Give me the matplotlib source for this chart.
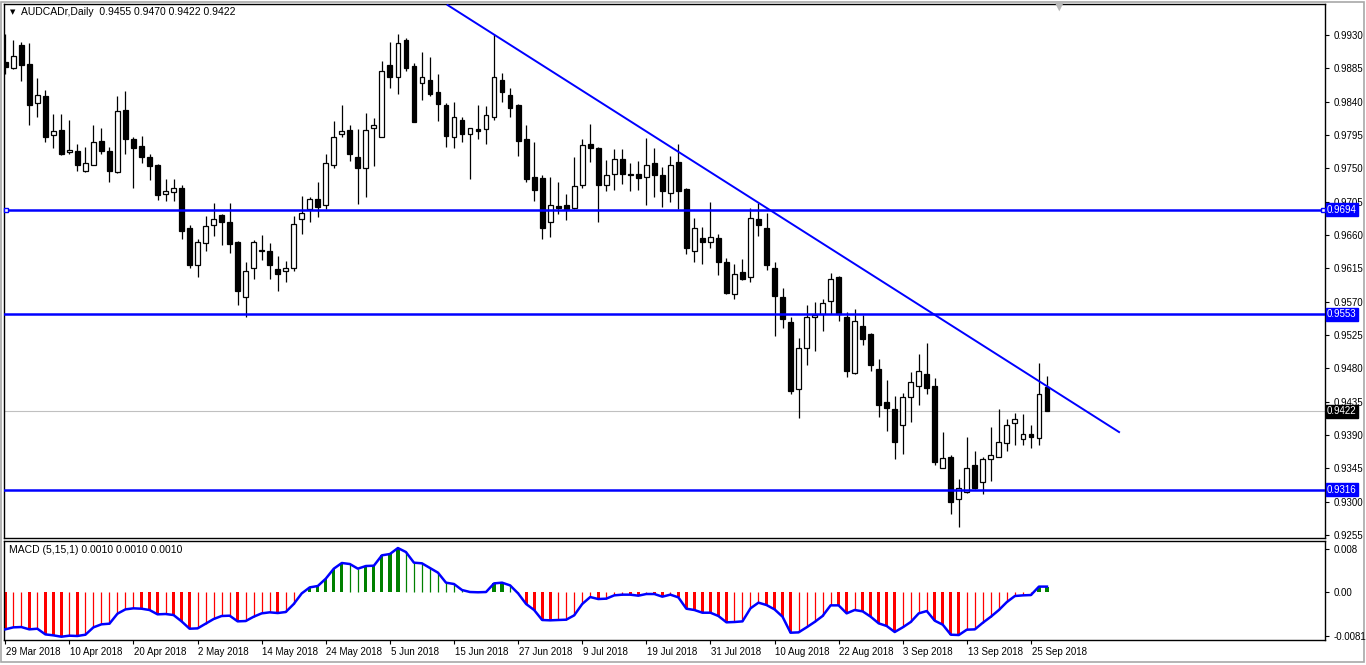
import numpy as np
import matplotlib
matplotlib.use("Agg")
import matplotlib.pyplot as plt
import matplotlib.transforms as mtrans
from matplotlib.patches import Rectangle

plt.rcParams['font.family'] = ['Liberation Sans', 'DejaVu Sans']

# ---- data (AUDCADr daily) ----
opens = [0.9894, 0.9885, 0.9917, 0.9891, 0.9838, 0.9848, 0.9795, 0.9802, 0.9772, 0.9774,
         0.9746, 0.9755, 0.9787, 0.9774, 0.9745, 0.9829, 0.9790, 0.9780, 0.9765, 0.9755,
         0.9715, 0.9718, 0.9724, 0.9670, 0.9619, 0.9649, 0.9673, 0.9687, 0.9678, 0.9651,
         0.9577, 0.9615, 0.9640, 0.9639, 0.9614, 0.9611, 0.9616, 0.9681, 0.9695, 0.9708,
         0.9700, 0.9754, 0.9797, 0.9802, 0.9765, 0.9750, 0.9804, 0.9793, 0.9890, 0.9874,
         0.9923, 0.9888, 0.9865, 0.9869, 0.9853, 0.9836, 0.9792, 0.9815, 0.9797, 0.9803,
         0.9803, 0.9819, 0.9869, 0.9849, 0.9835, 0.9789, 0.9738, 0.9737, 0.9677, 0.9699,
         0.9700, 0.9697, 0.9727, 0.9783, 0.9778, 0.9727, 0.9742, 0.9762, 0.9742, 0.9742,
         0.9739, 0.9757, 0.9741, 0.9717, 0.9758, 0.9722, 0.9638, 0.9656, 0.9650, 0.9656,
         0.9624, 0.9581, 0.9610, 0.9604, 0.9681, 0.9669, 0.9615, 0.9577, 0.9542, 0.9452,
         0.9508, 0.9549, 0.9554, 0.9571, 0.9603, 0.9549, 0.9474, 0.9537, 0.9527, 0.9479,
         0.9434, 0.9425, 0.9404, 0.9442, 0.9456, 0.9473, 0.9456, 0.9346, 0.9360, 0.9303,
         0.9313, 0.9350, 0.9326, 0.9357, 0.9361, 0.9379, 0.9406, 0.9384, 0.9392, 0.9386,
         0.9455]
highs = [0.9931, 0.9923, 0.9920, 0.9919, 0.9872, 0.9856, 0.9823, 0.9824, 0.9815, 0.9783,
         0.9779, 0.9809, 0.9804, 0.9779, 0.9848, 0.9854, 0.9792, 0.9794, 0.9769, 0.9756,
         0.9736, 0.9736, 0.9728, 0.9674, 0.9655, 0.9686, 0.9703, 0.9689, 0.9703, 0.9652,
         0.9624, 0.9653, 0.9660, 0.9649, 0.9632, 0.9625, 0.9686, 0.9713, 0.9711, 0.9732,
         0.9769, 0.9814, 0.9836, 0.9809, 0.9803, 0.9825, 0.9818, 0.9895, 0.9921, 0.9931,
         0.9926, 0.9892, 0.9907, 0.9900, 0.9877, 0.9838, 0.9840, 0.9819, 0.9805, 0.9836,
         0.9834, 0.9931, 0.9879, 0.9859, 0.9837, 0.9809, 0.9786, 0.9741, 0.9738, 0.9732,
         0.9715, 0.9765, 0.9790, 0.9810, 0.9779, 0.9761, 0.9776, 0.9776, 0.9757, 0.9760,
         0.9791, 0.9777, 0.9752, 0.9767, 0.9783, 0.9724, 0.9683, 0.9671, 0.9705, 0.9661,
         0.9629, 0.9621, 0.9628, 0.9697, 0.9703, 0.9690, 0.9624, 0.9588, 0.9549, 0.9521,
         0.9566, 0.9570, 0.9574, 0.9609, 0.9605, 0.9556, 0.9560, 0.9552, 0.9528, 0.9493,
         0.9464, 0.9443, 0.9447, 0.9475, 0.9499, 0.9514, 0.9467, 0.9394, 0.9363, 0.9331,
         0.9387, 0.9369, 0.9360, 0.9401, 0.9425, 0.9412, 0.9420, 0.9418, 0.9404, 0.9487,
         0.9470]
lows = [0.9878, 0.9884, 0.9868, 0.9808, 0.9820, 0.9785, 0.9778, 0.9768, 0.9769, 0.9746,
        0.9745, 0.9754, 0.9769, 0.9732, 0.9744, 0.9769, 0.9723, 0.9757, 0.9734, 0.9707,
        0.9706, 0.9706, 0.9655, 0.9616, 0.9603, 0.9638, 0.9659, 0.9646, 0.9636, 0.9565,
        0.9550, 0.9600, 0.9626, 0.9600, 0.9584, 0.9596, 0.9611, 0.9661, 0.9677, 0.9684,
        0.9695, 0.9750, 0.9793, 0.9760, 0.9702, 0.9711, 0.9753, 0.9792, 0.9859, 0.9850,
        0.9881, 0.9812, 0.9842, 0.9848, 0.9814, 0.9779, 0.9777, 0.9785, 0.9735, 0.9790,
        0.9783, 0.9815, 0.9839, 0.9819, 0.9767, 0.9731, 0.9706, 0.9654, 0.9657, 0.9689,
        0.9680, 0.9695, 0.9723, 0.9758, 0.9677, 0.9720, 0.9721, 0.9729, 0.9720, 0.9721,
        0.9700, 0.9712, 0.9698, 0.9704, 0.9695, 0.9635, 0.9623, 0.9621, 0.9643, 0.9606,
        0.9581, 0.9574, 0.9599, 0.9596, 0.9659, 0.9613, 0.9524, 0.9534, 0.9446, 0.9413,
        0.9485, 0.9504, 0.9531, 0.9554, 0.9544, 0.9469, 0.9473, 0.9511, 0.9477, 0.9415,
        0.9396, 0.9358, 0.9365, 0.9407, 0.9430, 0.9446, 0.9349, 0.9346, 0.9284, 0.9266,
        0.9312, 0.9317, 0.9311, 0.9328, 0.9360, 0.9368, 0.9377, 0.9377, 0.9373, 0.9377,
        0.9422]
closes = [0.9887, 0.9902, 0.9889, 0.9836, 0.9849, 0.9793, 0.9800, 0.9770, 0.9775, 0.9754,
          0.9757, 0.9785, 0.9773, 0.9746, 0.9828, 0.9789, 0.9778, 0.9766, 0.9753, 0.9714,
          0.9719, 0.9724, 0.9665, 0.9620, 0.9651, 0.9672, 0.9681, 0.9677, 0.9648, 0.9585,
          0.9612, 0.9651, 0.9638, 0.9619, 0.9608, 0.9616, 0.9675, 0.9690, 0.9708, 0.9698,
          0.9757, 0.9792, 0.9800, 0.9769, 0.9750, 0.9802, 0.9808, 0.9882, 0.9873, 0.9919,
          0.9885, 0.9813, 0.9873, 0.9851, 0.9837, 0.9794, 0.9819, 0.9796, 0.9804, 0.9800,
          0.9822, 0.9873, 0.9853, 0.9831, 0.9787, 0.9735, 0.9721, 0.9670, 0.9700, 0.9697,
          0.9695, 0.9726, 0.9781, 0.9777, 0.9727, 0.9741, 0.9762, 0.9743, 0.9741, 0.9737,
          0.9755, 0.9741, 0.9719, 0.9754, 0.9720, 0.9642, 0.9669, 0.9650, 0.9658, 0.9623,
          0.9582, 0.9608, 0.9601, 0.9683, 0.9673, 0.9619, 0.9578, 0.9547, 0.9450, 0.9507,
          0.9550, 0.9552, 0.9568, 0.9600, 0.9554, 0.9477, 0.9544, 0.9520, 0.9484, 0.9431,
          0.9426, 0.9380, 0.9442, 0.9461, 0.9476, 0.9454, 0.9353, 0.9359, 0.9300, 0.9319,
          0.9346, 0.9318, 0.9357, 0.9363, 0.9380, 0.9404, 0.9411, 0.9391, 0.9387, 0.9445,
          0.9422]

# MACD (5,15,1) main values
macd = [-0.00691, -0.00654, -0.00648, -0.00691, -0.00679, -0.00784, -0.00802, -0.00827, -0.00808, -0.00814,
        -0.00790, -0.00654, -0.00598, -0.00586, -0.00401, -0.00321, -0.00302, -0.00309, -0.00333, -0.00413,
        -0.00407, -0.00426, -0.00543, -0.00679, -0.00673, -0.00586, -0.00500, -0.00444, -0.00438, -0.00543,
        -0.00537, -0.00457, -0.00395, -0.00376, -0.00389, -0.00370, -0.00222, -0.00025, 0.00086, 0.00111,
        0.00247, 0.00432, 0.00537, 0.00518, 0.00432, 0.00481, 0.00487, 0.00679, 0.00703, 0.00814,
        0.00740, 0.00543, 0.00531, 0.00444, 0.00358, 0.00173, 0.00148, 0.00037, 0.00000, -0.00005,
        0.00000, 0.00160, 0.00173, 0.00123, -0.00025, -0.00222, -0.00333, -0.00518, -0.00524, -0.00518,
        -0.00512, -0.00432, -0.00222, -0.00093, -0.00130, -0.00123, -0.00062, -0.00049, -0.00049, -0.00068,
        -0.00037, -0.00037, -0.00086, -0.00049, -0.00099, -0.00309, -0.00333, -0.00383, -0.00383, -0.00444,
        -0.00561, -0.00555, -0.00543, -0.00302, -0.00197, -0.00241, -0.00321, -0.00457, -0.00753, -0.00747,
        -0.00654, -0.00555, -0.00444, -0.00247, -0.00247, -0.00395, -0.00333, -0.00358, -0.00457, -0.00580,
        -0.00629, -0.00740, -0.00654, -0.00555, -0.00395, -0.00352, -0.00531, -0.00605, -0.00790, -0.00796,
        -0.00697, -0.00691, -0.00568, -0.00457, -0.00333, -0.00185, -0.00074, -0.00062, -0.00056, 0.00100,
        0.00100]

date_labels = ["29 Mar 2018", "10 Apr 2018", "20 Apr 2018", "2 May 2018", "14 May 2018",
               "24 May 2018", "5 Jun 2018", "15 Jun 2018", "27 Jun 2018", "9 Jul 2018",
               "19 Jul 2018", "31 Jul 2018", "10 Aug 2018", "22 Aug 2018", "3 Sep 2018",
               "13 Sep 2018", "25 Sep 2018"]
price_ticks = [0.9930, 0.9885, 0.9840, 0.9795, 0.9750, 0.9705, 0.9660, 0.9615,
               0.9570, 0.9525, 0.9480, 0.9435, 0.9390, 0.9345, 0.9300, 0.9255]
levels = [0.9694, 0.9553, 0.9316]
last_price = 0.9422
trend_x = [55.2, 139.0]
trend_y = [0.99705, 0.93940]

n = len(closes)
x = np.arange(n)
o = np.array(opens); c = np.array(closes); h = np.array(highs); l = np.array(lows)

W, H = 1366, 665
fig = plt.figure(figsize=(W / 100, H / 100), dpi=100)
fig.patch.set_facecolor('white')

def rect(x0, y0, x1, y1):
    return [x0 / W, 1 - y1 / H, (x1 - x0) / W, (y1 - y0) / H]

# window frame (grey)
frame = Rectangle((1 / W, 1 - 662 / H), 1363 / W, 660 / H, transform=fig.transFigure,
                  fill=False, ec='#a8a8a8', lw=1.2, zorder=0)
fig.add_artist(frame)

ax = fig.add_axes(rect(4, 4, 1325, 538))
ax2 = fig.add_axes(rect(4, 541, 1325, 640))

xlim = (-0.16, 164.7)

# ---- candles ----
ax.vlines(x, l, h, color='black', lw=0.9, zorder=2)
bull = c >= o
body_lo = np.minimum(o, c)
body_h = np.maximum(np.abs(c - o), 0.00003)
ax.bar(x[bull], body_h[bull], bottom=body_lo[bull], width=0.6,
       facecolor='white', edgecolor='black', lw=0.9, zorder=3)
ax.bar(x[~bull], body_h[~bull], bottom=body_lo[~bull], width=0.6,
       facecolor='black', edgecolor='black', lw=0.9, zorder=3)

# ---- lines ----
ax.axhline(last_price, color='#c0c0c0', lw=0.8, zorder=1)
for lv in levels:
    ax.axhline(lv, color='#0000ff', lw=1.8, zorder=4)
ax.plot([xlim[0] + 0.2, xlim[1] - 0.2], [levels[0], levels[0]], ls='none', marker='s',
        ms=3.5, mfc='white', mec='#0000ff', mew=1.0, zorder=5, clip_on=False)
ax.plot(trend_x, trend_y, color='#0000ff', lw=1.4, zorder=4)

ax.set_xlim(*xlim)
ax.set_ylim(0.92510, 0.99719)

# right price axis
ax.yaxis.tick_right()
ax.set_yticks(price_ticks)
ax.set_yticklabels(["%.4f" % t for t in price_ticks])
ax.tick_params(axis='y', direction='out', length=3, width=0.8, labelsize=7, pad=3)
ax.set_xticks([])
for sp in ['top', 'bottom', 'left', 'right']:
    ax.spines[sp].set_linewidth(1.0)

blend = mtrans.blended_transform_factory(ax.transAxes, ax.transData)
for lv in levels:
    ax.text(1.0015, lv, "%.4f" % lv, transform=blend, fontsize=7, color='white',
            va='center', ha='left', zorder=10,
            bbox=dict(boxstyle='square,pad=0.15', fc='#0000ff', ec='#0000ff'))
ax.text(1.0015, last_price, "%.4f" % last_price, transform=blend, fontsize=7, color='white',
        va='center', ha='left', zorder=10,
        bbox=dict(boxstyle='square,pad=0.15', fc='black', ec='black'))

# ---- MACD pane ----
m = np.array(macd)
absm = np.abs(m)
grow = np.concatenate([[True], absm[1:] >= absm[:-1]])
cols = np.where(m >= 0, '#008000', '#ff0000')
thick = grow
ax2.bar(x[thick], m[thick], width=0.4, color=cols[thick], lw=0, zorder=2)
ax2.vlines(x[~thick], 0, m[~thick], colors=cols[~thick], lw=0.9, zorder=2)
ax2.plot(x, m, color='#0000ff', lw=1.8, zorder=3)
ax2.set_xlim(*xlim)
ax2.set_ylim(-0.00888, 0.00944)
ax2.yaxis.tick_right()
ax2.set_yticks([0.008, 0.0, -0.0081])
ax2.set_yticklabels(["0.008", "0.00", "-0.0081"])
ax2.tick_params(axis='y', direction='out', length=3, width=0.8, labelsize=7, pad=3)
ax2.set_xticks(np.arange(len(date_labels)) * 8)
ax2.set_xticklabels([])
ax2.tick_params(axis='x', direction='out', length=3, width=0.8)
for i, lab in enumerate(date_labels):
    ax2.annotate(lab, xy=(i * 8, 0), xycoords=('data', 'axes fraction'),
                 xytext=(0.5, -5), textcoords='offset points', ha='left', va='top',
                 fontsize=7)
for sp in ['top', 'bottom', 'left', 'right']:
    ax2.spines[sp].set_linewidth(1.0)

# ---- header texts ----
fig.text(10 / W, 1 - 12 / H, u"\u25BC", fontsize=5, va='center', ha='left',
         family='DejaVu Sans')
fig.text(21 / W, 1 - 12 / H, "AUDCADr,Daily  0.9455 0.9470 0.9422 0.9422",
         fontsize=7.5, va='center', ha='left')
fig.text(9 / W, 1 - 550 / H, "MACD (5,15,1) 0.0010 0.0010 0.0010",
         fontsize=7.5, va='center', ha='left')

# MT4 chart-shift marker
fig.text(1059 / W, 1 - 7 / H, u"\u25BC", fontsize=8, color='#b8b8b8', va='center',
         ha='center', family='DejaVu Sans')

fig.savefig("out.png", dpi=100, facecolor='white')
